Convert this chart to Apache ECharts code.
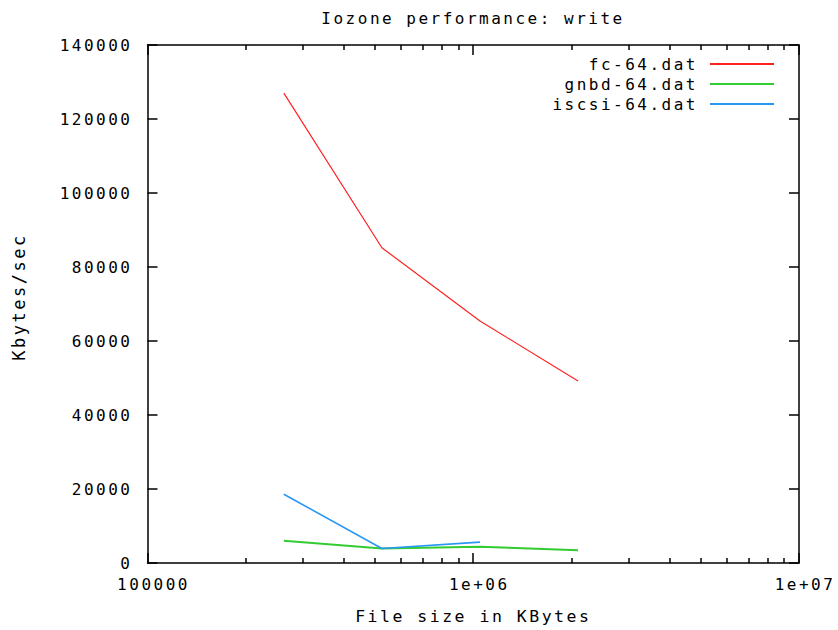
<!DOCTYPE html>
<html>
<head>
<meta charset="utf-8">
<script src="https://cdn.jsdelivr.net/npm/echarts@6/dist/echarts.min.js"></script>
<style>
  html, body { margin: 0; padding: 0; background: #fff; }
  #chart { width: 838px; height: 630px; }
  #chart text { letter-spacing: 2.5px; }
</style>
</head>
<body>
<div id="chart"></div>
<script>
// File sizes (KB) tested by iozone, record size 64 KB
const fileSizes = [262144, 524288, 1048576, 2097152];

// Write throughput in Kbytes/sec
const fcWrite    = [127000, 85200, 65400, 49200];
const gnbdWrite  = [6000, 3900, 4400, 3450];
const iscsiWrite = [18600, 3900, 5650];

const seriesNames = ['fc-64.dat', 'gnbd-64.dat', 'iscsi-64.dat'];
const seriesColors = ['#ff2222', '#33cc33', '#2a96f5'];
const yTicks = [0, 20000, 40000, 60000, 80000, 100000, 120000, 140000];
const xMajorTicks = [1e5, 1e6, 1e7];
const xMinorTicks = [2e5, 3e5, 4e5, 5e5, 6e5, 7e5, 8e5, 9e5,
                     2e6, 3e6, 4e6, 5e6, 6e6, 7e6, 8e6, 9e6];

const FONT = '"DejaVu Sans Mono", monospace';
const BLACK = '#000';

function pairs(xs, ys) {
  return ys.map((y, i) => [xs[i], y]);
}

function xAxisFrame(position, ticks, len, showLine, showLabel) {
  return {
    type: 'log',
    logBase: 10,
    position: position,
    min: 1e5,
    max: 1e7,
    axisLine: { show: showLine, onZero: false, lineStyle: { color: BLACK, width: 1.5 } },
    axisTick: { show: true, inside: true, length: len, customValues: ticks,
                lineStyle: { color: BLACK, width: 1.5 } },
    axisLabel: showLabel ? {
      show: true, customValues: ticks, margin: 13,
      color: BLACK, fontFamily: FONT, fontSize: 16, padding: [0, 0, 0, 12],
      formatter: v => (v >= 1e6 ? v.toExponential(0).replace('e+', 'e+0') : String(v))
    } : { show: false },
    splitLine: { show: false },
    minorTick: { show: false }
  };
}

function yAxisFrame(position, showLabel) {
  return {
    type: 'value',
    position: position,
    min: 0,
    max: 140000,
    interval: 20000,
    axisLine: { show: true, lineStyle: { color: BLACK, width: 1.5 } },
    axisTick: { show: true, inside: true, length: 10, customValues: yTicks,
                lineStyle: { color: BLACK, width: 1.5 } },
    axisLabel: showLabel ? {
      show: true, margin: 15, customValues: yTicks,
      color: BLACK, fontFamily: FONT, fontSize: 16,
      formatter: v => String(v)
    } : { show: false },
    splitLine: { show: false }
  };
}

const chart = echarts.init(document.getElementById('chart'), null, { renderer: 'svg' });

chart.setOption({
  animation: false,
  backgroundColor: '#fff',
  title: {
    text: 'Iozone performance: write',
    left: 468,
    top: 5,
    textAlign: 'center',
    textStyle: { fontFamily: FONT, fontSize: 16, fontWeight: 'normal', color: BLACK }
  },
  grid: { left: 147.5, right: 39, top: 45, bottom: 66, containLabel: false },
  legend: {
    orient: 'vertical',
    right: 64,
    top: 56,
    padding: 0,
    align: 'right',
    itemWidth: 64,
    itemHeight: 2,
    itemGap: 4,
    icon: 'rect',
    data: seriesNames,
    textStyle: { fontFamily: FONT, fontSize: 16, color: BLACK, lineHeight: 14,
                 padding: [0, 7, 0, 0] }
  },
  xAxis: [
    Object.assign(xAxisFrame('bottom', xMajorTicks, 10, true, true), {
      name: 'File size in KBytes',
      nameLocation: 'middle',
      nameGap: 45,
      nameTextStyle: { fontFamily: FONT, fontSize: 16.5, color: BLACK }
    }),
    xAxisFrame('bottom', xMinorTicks, 5, false, false),
    xAxisFrame('top', xMajorTicks, 10, true, false),
    xAxisFrame('top', xMinorTicks, 5, false, false)
  ],
  yAxis: [
    Object.assign(yAxisFrame('left', true), {
      name: 'Kbytes/sec',
      nameLocation: 'middle',
      nameGap: 120,
      nameRotate: 90,
      nameTextStyle: { fontFamily: FONT, fontSize: 17, color: BLACK, padding: [0, 0, 0, 14] }
    }),
    yAxisFrame('right', false)
  ],
  series: seriesNames.map((name, i) => ({
    name: name,
    type: 'line',
    xAxisIndex: 0,
    yAxisIndex: 0,
    data: pairs(fileSizes, [fcWrite, gnbdWrite, iscsiWrite][i]),
    symbol: 'none',
    z: i === 2 ? 3 : 2,
    color: seriesColors[i],
    lineStyle: { width: [1.2, 2, 1.6][i], color: seriesColors[i] }
  }))
});
</script>
</body>
</html>
